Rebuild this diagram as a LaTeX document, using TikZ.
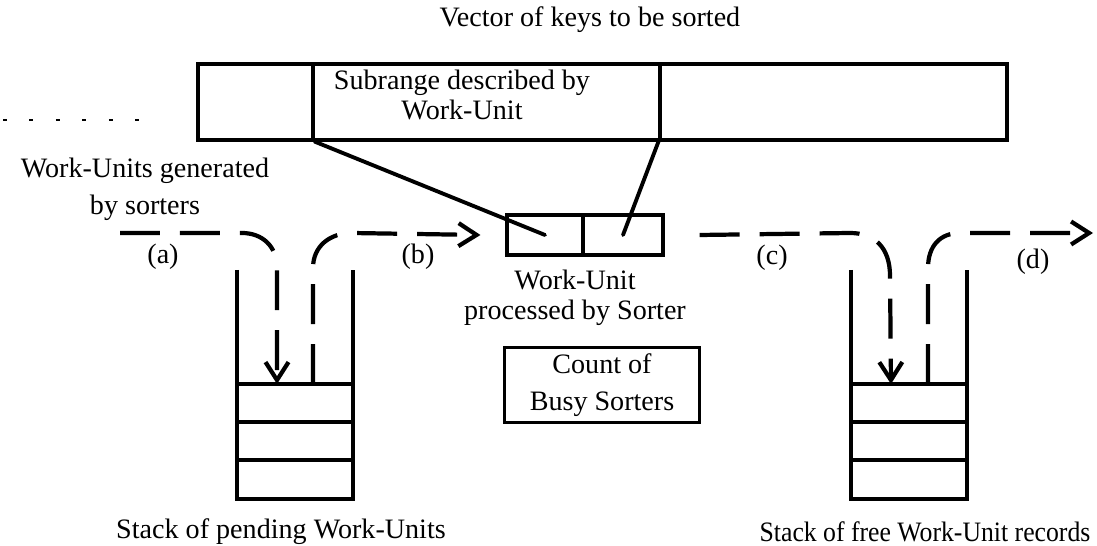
\documentclass[tikz,border=0pt]{standalone}
\usepackage{fontspec}
\setmainfont{Liberation Serif}
\usetikzlibrary{arrows.meta}
\tikzset{
  lab/.style={font=\fontsize{16}{17}\selectfont, inner sep=0pt, align=center},
  labwide/.style={font=\fontsize{16}{21}\selectfont, inner sep=0pt, align=center},
  cell/.style={draw, line width=1.8pt, inner sep=0pt},
  wall/.style={line width=2pt},
  link/.style={line width=2.2pt, line cap=round},
  flow/.style={->, line width=2.4pt, dash pattern=on 0.8cm off 0.4cm},
  scrap/.style={line width=0.8pt, dash pattern=on 0.08cm off 0.45cm},
  >={Straight Barb[length=0.36cm,width=0.46cm]}
}

\begin{document}
\begin{tikzpicture}[x=0.02cm, y=-0.02cm]
\useasboundingbox (0,0) rectangle (1097,546);

% the key vector and the subrange of one work unit
\node[lab] (title) at (590,20) {Vector of keys to be sorted};
\node[cell, minimum width=2.3cm, minimum height=1.52cm] (vecL) at (255.5,102) {};
\node[cell, minimum width=6.94cm, minimum height=1.52cm] (vecM) at (486.5,102) {};
\node[cell, minimum width=6.94cm, minimum height=1.52cm] (vecR) at (833.5,102) {};
\node[lab] (subrange) at (462,95) {Subrange described by\\Work-Unit};
\draw[scrap] (3,120) -- (140,120);

% work unit held by a sorter
\node[cell, minimum width=1.52cm, minimum height=0.8cm] (wuL) at (545,235) {};
\node[cell, minimum width=1.6cm, minimum height=0.8cm] (wuR) at (623,235) {};
\draw[link] (vecL.south east) -- (wuL.center);
\draw[link] (vecR.south west) -- (wuR.center);
\node[lab] (wulab) at (575,298) {Work-Unit\\processed by Sorter};
\node[cell, labwide, minimum width=3.9cm, minimum height=1.5cm] (count) at (602,385) {Count of\\Busy Sorters};

% stacks
\draw[wall] (237,270) -- (237,499) -- (353,499) -- (353,270);
\foreach \y in {384,422,460}
  \draw[wall] (237,\y) -- (353,\y);
\begin{scope}[shift={(614,0)}]
\draw[wall] (237,270) -- (237,499) -- (353,499) -- (353,270);
\foreach \y in {384,422,460}
  \draw[wall] (237,\y) -- (353,\y);
\end{scope}
\coordinate (pendIn) at (277,384);
\coordinate (pendOut) at (313,384);
\coordinate (freeIn) at (891,384);
\coordinate (freeOut) at (928,384);
\node[lab] (pendlab) at (281,532) {Stack of pending Work-Units};
\node[lab] (freelab) at (925,532) {\scalebox{0.915}[1]{Stack of free Work-Unit records}};

% flow of work units
\node[labwide] (gen) at (145,189) {Work-Units generated\\by sorters};
\coordinate (srcA) at (120,233);
\coordinate (dstD) at (1093,233);
\draw[flow] (srcA) -- (242,233) .. controls (262,233) and (277,246) .. (277,268) -- (pendIn);
\draw[flow] (pendOut) -- (313,268) .. controls (313,246) and (330,233) .. (352,233) -- ([xshift=-0.5cm]wuL.west);
\draw[flow] (wuR.east) ++(0.7cm,0) -- (850,233) .. controls (875,233) and (890,248) .. (890,276) -- (freeIn);
\draw[flow] (freeOut) -- (928,268) .. controls (928,246) and (940,233) .. (960,233) -- (dstD);
\node[lab] (la) at (163,257) {(a)};
\node[lab] (lb) at (418,257) {(b)};
\node[lab] (lc) at (772,258) {(c)};
\node[lab] (ld) at (1033,262) {(d)};
\end{tikzpicture}
\end{document}
